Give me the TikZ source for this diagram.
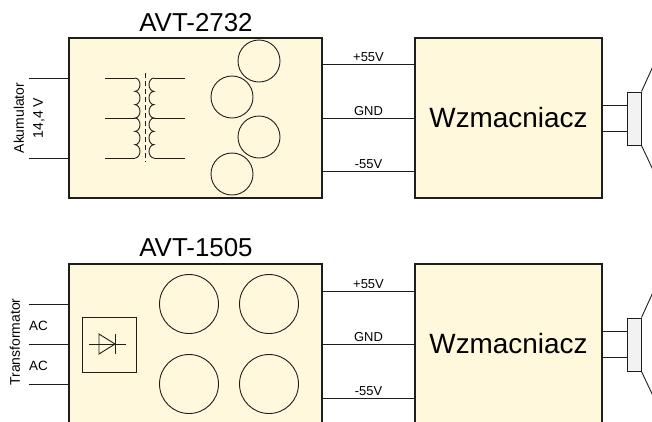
\documentclass[tikz,border=0pt]{standalone}
\usepackage{fontspec}
\setmainfont{Liberation Sans}
\definecolor{zolty}{RGB}{255,248,220}
\definecolor{ramka}{RGB}{30,30,30}
\definecolor{szary}{RGB}{242,242,242}
\tikzset{
  blok/.style={draw=ramka, fill=zolty, line width=1.4bp, inner sep=0pt},
  przewod/.style={draw=ramka, line width=0.9bp},
  napis/.style={font=\fontsize{13}{15}\selectfont, above, inner sep=2bp},
  boczny/.style={font=\fontsize{14}{16}\selectfont, rotate=90, inner sep=0pt},
  tytul/.style={font=\fontsize{26}{30}\selectfont, inner sep=0pt},
  kond/.style={circle, draw=ramka, line width=0.9bp, inner sep=0pt},
  glosnik/.style={draw=ramka, fill=szary, line width=1bp, minimum width=14bp, minimum height=53bp, inner sep=0pt},
}
\begin{document}
\begin{tikzpicture}[x=1bp,y=-1bp]
  \useasboundingbox (0,0) rectangle (652,421);
  \clip (0,0) rectangle (652,421);

  % ---- gorny: przetwornica
  \node[tytul] (t1) at (196,23) {AVT-2732};
  \node[blok, minimum width=253bp, minimum height=160bp] (p1) at (195.5,118) {};
  \coordinate (a1) at (29,78);
  \coordinate (a2) at (29,158);
  \draw[przewod] (a1) -- (a1 -| p1.west);
  \draw[przewod] (a2) -- (a2 -| p1.west);
  \node[boczny] (akum) at (19,118) {Akumulator};
  \node[boczny] (nap) at (39,118) {14,4 V};
  % transformator
  \coordinate (tl) at (135,78);
  \coordinate (tr) at (154,78);
  \draw[przewod] (105,78) -- (tl);
  \draw[przewod] (105,118) -- (135,118);
  \draw[przewod] (105,158) -- (135,158);
  \draw[przewod] (tl) \foreach \i in {1,...,6} {arc[start angle=-90, end angle=90, x radius=5, y radius=6.67]};
  \draw[przewod] (tr) \foreach \i in {1,...,6} {arc[start angle=-90, end angle=-270, x radius=5, y radius=6.67]};
  \draw[przewod] (tr) -- (185,78);
  \draw[przewod] (154,118) -- (185,118);
  \draw[przewod] (154,158) -- (185,158);
  \draw[przewod, dash pattern=on 5bp off 3bp] (145.5,73) -- (145.5,162);
  % kondensatory
  \node[kond, minimum size=42bp] (c1) at (259,61) {};
  \node[kond, minimum size=42bp] (c2) at (232,97) {};
  \node[kond, minimum size=42bp] (c3) at (259,137) {};
  \node[kond, minimum size=42bp] (c4) at (232,174) {};
  % wzmacniacz
  \node[blok, minimum width=187bp, minimum height=160bp, font=\fontsize{28}{32}\selectfont] (w1) at (508.5,118) {Wzmacniacz};
  \draw[przewod] ([yshift=54bp]p1.east) -- node[napis]{+55V} ([yshift=54bp]w1.west);
  \draw[przewod] (p1.east) -- node[napis]{GND} (w1.west);
  \draw[przewod] ([yshift=-53bp]p1.east) -- node[napis]{-55V} ([yshift=-53bp]w1.west);
  % glosnik
  \node[glosnik] (g1) at (634,118.5) {};
  \draw[przewod] ([yshift=13bp]w1.east) -- ([yshift=13bp]w1.east -| g1.west);
  \draw[przewod] ([yshift=-13bp]w1.east) -- ([yshift=-13bp]w1.east -| g1.west);
  \coordinate (s1) at (654,64);
  \coordinate (s2) at (654,172);
  \draw[przewod] (g1.north east) -- (s1);
  \draw[przewod] (g1.south east) -- (s2);

  % ---- dolny: zasilacz
  \node[tytul] (t2) at (196,248) {AVT-1505};
  \node[blok, minimum width=253bp, minimum height=160bp] (p2) at (195.5,344) {};
  \coordinate (b1) at (29,304);
  \coordinate (b2) at (29,344);
  \coordinate (b3) at (29,384);
  \draw[przewod] (b1) -- (b1 -| p2.west);
  \draw[przewod] (b2) -- (b2 -| p2.west);
  \draw[przewod] (b3) -- (b3 -| p2.west);
  \node[font=\fontsize{13.5}{15}\selectfont, inner sep=0pt] (ac1) at (38.5,326) {AC};
  \node[font=\fontsize{13.5}{15}\selectfont, inner sep=0pt] (ac2) at (38.5,366) {AC};
  \node[boczny] (trafo) at (15,342) {Transformator};
  % mostek
  \node[draw=ramka, line width=1bp, minimum width=54bp, minimum height=55bp, inner sep=0pt] (m1) at (109,344.5) {};
  \draw[przewod] (89,344) -- (126,344);
  \draw[przewod] (99,334) -- (99,354) -- (115,344) -- cycle;
  \draw[przewod] (115,334) -- (115,354);
  % kondensatory
  \node[kond, minimum size=59bp] (d1) at (189,304) {};
  \node[kond, minimum size=59bp] (d2) at (269,304) {};
  \node[kond, minimum size=59bp] (d3) at (189,384) {};
  \node[kond, minimum size=59bp] (d4) at (269,384) {};
  % wzmacniacz
  \node[blok, minimum width=187bp, minimum height=160bp, font=\fontsize{28}{32}\selectfont] (w2) at (508.5,344) {Wzmacniacz};
  \draw[przewod] ([yshift=53bp]p2.east) -- node[napis]{+55V} ([yshift=53bp]w2.west);
  \draw[przewod] (p2.east) -- node[napis]{GND} (w2.west);
  \draw[przewod] ([yshift=-54bp]p2.east) -- node[napis]{-55V} ([yshift=-54bp]w2.west);
  % glosnik
  \node[glosnik] (g2) at (634,344.5) {};
  \draw[przewod] ([yshift=13bp]w2.east) -- ([yshift=13bp]w2.east -| g2.west);
  \draw[przewod] ([yshift=-13bp]w2.east) -- ([yshift=-13bp]w2.east -| g2.west);
  \coordinate (s3) at (654,290);
  \coordinate (s4) at (654,398);
  \draw[przewod] (g2.north east) -- (s3);
  \draw[przewod] (g2.south east) -- (s4);
\end{tikzpicture}
\end{document}
